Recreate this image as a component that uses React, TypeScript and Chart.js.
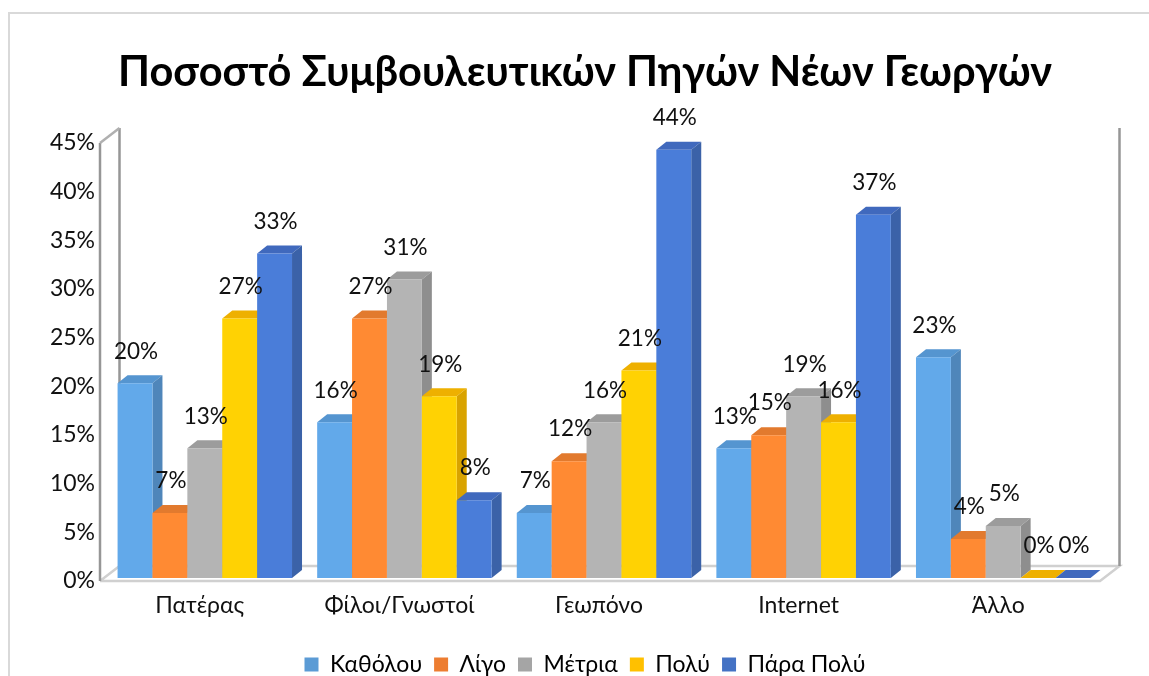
import React, { useEffect, useRef } from "react";
import { Chart } from "chart.js/auto";

const categories = ["Πατέρας", "Φίλοι/Γνωστοί", "Γεωπόνο", "Internet", "Άλλο"];
const seriesNames = ["Καθόλου", "Λίγο", "Μέτρια", "Πολύ", "Πάρα Πολύ"];
const katholou = [20, 16, 6.67, 13.33, 22.67];
const ligo = [6.67, 26.67, 12, 14.67, 4];
const metria = [13.33, 30.67, 16, 18.67, 5.33];
const poly = [26.67, 18.67, 21.33, 16, 0];
const paraPoly = [33.33, 8, 44, 37.33, 0];
const allValues = [katholou, ligo, metria, poly, paraPoly];

const frontColors = ["#62a9ea", "#ff8a33", "#b4b4b4", "#ffd203", "#4a7dd9"];
const topColors = ["#5595d0", "#e27a2e", "#9c9c9c", "#eeb000", "#4069bd"];
const sideColors = ["#4f86ba", "#c96c28", "#8e8e8e", "#d9a300", "#3b62a8"];
const legendColors = ["#5b9bd5", "#ed7d31", "#a5a5a5", "#ffc000", "#4472c4"];

const FONT = "Lato, Carlito, 'Open Sans', sans-serif";
const BAR_SHIFT_X = 5;
const BAR_SHIFT_Y = -3;
const BAR_DX = 10;
const BAR_DY = -8;
const WALL_DX = 19.5;
const WALL_DY = -15;
const CENTER_SHIFT = 36;

const frame3d = {
  id: "frame3d",
  afterLayout(chart: any) {
    for (const box of [chart.titleBlock, chart.legend]) {
      box.left += CENTER_SHIFT;
      box.right += CENTER_SHIFT;
    }
  },
  beforeDraw(chart: any) {
    const { ctx, chartArea: a } = chart;
    ctx.save();
    ctx.strokeStyle = "#d9d9d9";
    ctx.lineWidth = 2;
    ctx.beginPath();
    ctx.moveTo(9, chart.height);
    ctx.lineTo(9, 13);
    ctx.lineTo(chart.width, 13);
    ctx.stroke();

    const right = a.right + 2;
    ctx.strokeStyle = "#d0d0d0";
    ctx.lineWidth = 2.5;
    ctx.beginPath();
    ctx.moveTo(a.left, a.bottom);
    ctx.lineTo(right, a.bottom);
    ctx.lineTo(right + WALL_DX, a.bottom + WALL_DY);
    ctx.lineTo(a.left + WALL_DX, a.bottom + WALL_DY);
    ctx.lineTo(a.left, a.bottom);
    ctx.stroke();
    ctx.strokeStyle = "#969696";
    ctx.lineWidth = 2.5;
    ctx.beginPath();
    ctx.moveTo(a.left, a.bottom);
    ctx.lineTo(a.left, a.top);
    ctx.moveTo(a.left + WALL_DX, a.top + WALL_DY);
    ctx.lineTo(a.left + WALL_DX, a.bottom + WALL_DY);
    ctx.moveTo(right + WALL_DX, a.top + WALL_DY);
    ctx.lineTo(right + WALL_DX, a.bottom + WALL_DY);
    ctx.stroke();
    ctx.strokeStyle = "#b0b0b0";
    ctx.beginPath();
    ctx.moveTo(a.left, a.top);
    ctx.lineTo(a.left + WALL_DX, a.top + WALL_DY);
    ctx.stroke();
    ctx.restore();
  },
  // Paint the bars back-to-front, left to right, so each bar covers its left neighbour's side.
  beforeDatasetsDraw(chart: any) {
    const { ctx } = chart;
    ctx.save();
    ctx.translate(BAR_SHIFT_X, BAR_SHIFT_Y);
    chart.data.datasets.forEach((_: any, i: number) => {
      const meta = chart.getDatasetMeta(i);
      for (const el of meta.data) {
        const { x, y, base, width } = el.getProps(["x", "y", "base", "width"], true);
        const l = x - width / 2;
        const r = x + width / 2;
        ctx.fillStyle = topColors[i];
        ctx.beginPath();
        ctx.moveTo(l, y);
        ctx.lineTo(l + BAR_DX, y + BAR_DY);
        ctx.lineTo(r + BAR_DX, y + BAR_DY);
        ctx.lineTo(r, y);
        ctx.closePath();
        ctx.fill();
        ctx.fillStyle = sideColors[i];
        ctx.beginPath();
        ctx.moveTo(r, y);
        ctx.lineTo(r + BAR_DX, y + BAR_DY);
        ctx.lineTo(r + BAR_DX, base + BAR_DY);
        ctx.lineTo(r, base);
        ctx.closePath();
        ctx.fill();
      }
      meta.controller.draw();
    });
    ctx.restore();
  },
  beforeDatasetDraw() {
    return false;
  },
  afterDatasetsDraw(chart: any) {
    const { ctx } = chart;
    ctx.save();
    ctx.font = `22.5px ${FONT}`;
    ctx.fillStyle = "#111111";
    ctx.textAlign = "center";
    ctx.textBaseline = "middle";
    chart.data.datasets.forEach((ds: any, i: number) => {
      chart.getDatasetMeta(i).data.forEach((el: any, j: number) => {
        const { x, y } = el.getProps(["x", "y"], true);
        ctx.fillText(`${Math.round(ds.data[j])}%`, x + BAR_SHIFT_X + 1, y + BAR_SHIFT_Y - 32);
      });
    });
    ctx.restore();
  },
};

export default function App() {
  const ref = useRef<HTMLCanvasElement>(null);
  useEffect(() => {
    const chart = new Chart(ref.current as HTMLCanvasElement, {
      type: "bar",
      plugins: [frame3d],
      data: {
        labels: categories,
        datasets: seriesNames.map((name, i) => ({
          label: name,
          data: allValues[i],
          backgroundColor: frontColors[i],
          borderWidth: 0,
          barPercentage: 1,
          categoryPercentage: 0.874,
        })),
      },
      options: {
        animation: false,
        responsive: false,
        layout: { padding: { left: 0, right: 51, top: 0, bottom: -10 } },
        plugins: {
          tooltip: { enabled: false },
          title: {
            display: true,
            text: "Ποσοστό Συμβουλευτικών Πηγών Νέων Γεωργών",
            color: "#000000",
            font: { family: FONT, size: 41.5, weight: "bold" },
            padding: { top: 48, bottom: 45.2 },
          },
          legend: {
            position: "bottom",
            labels: {
              color: "#111111",
              font: { family: FONT, size: 23 },
              boxWidth: 14,
              boxHeight: 14,
              padding: 12,
              generateLabels: () =>
                seriesNames.map((name, i) => ({
                  text: name,
                  fillStyle: legendColors[i],
                  strokeStyle: legendColors[i],
                  lineWidth: 0,
                  datasetIndex: i,
                })),
            },
          },
        },
        scales: {
          x: {
            grid: { display: false, drawTicks: false },
            border: { display: false },
            ticks: { color: "#111111", font: { family: FONT, size: 23 }, padding: 11, maxRotation: 0 },
            afterFit: (s: any) => {
              s.height = 60;
            },
          },
          y: {
            min: 0,
            max: 45,
            grid: { display: false, drawTicks: false },
            border: { display: false },
            ticks: {
              stepSize: 5,
              color: "#111111",
              font: { family: FONT, size: 23 },
              padding: 5,
              callback: (v: any) => `${v}%`,
            },
            afterFit: (s: any) => {
              s.width = 100;
            },
          },
        },
      },
    } as any);
    return () => chart.destroy();
  }, []);
  return (
    <div style={{ position: "fixed", left: 0, top: 0, width: 1149, height: 676, background: "#fff" }}>
      <canvas ref={ref} width={1149} height={676} style={{ display: "block" }} />
    </div>
  );
}
